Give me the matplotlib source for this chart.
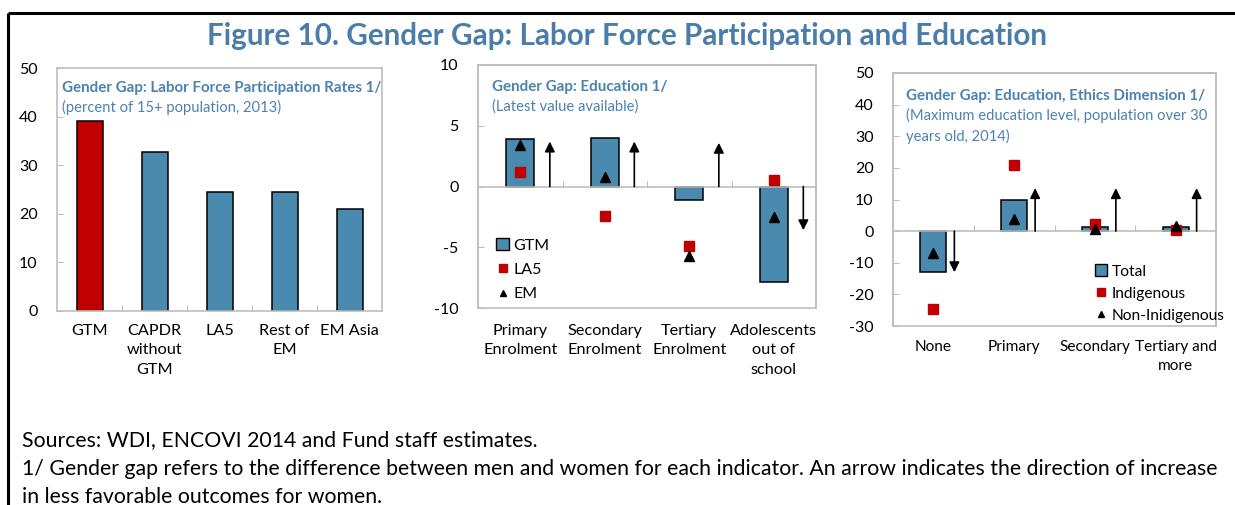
import matplotlib
matplotlib.use("Agg")
import matplotlib.pyplot as plt
from matplotlib.patches import Patch, Rectangle
from matplotlib.lines import Line2D

plt.rcParams['font.family'] = ['Lato', 'DejaVu Sans']
plt.rcParams['axes.unicode_minus'] = False

# --- data ---
lfp_cats = ["GTM", "CAPDR\nwithout\nGTM", "LA5", "Rest of\nEM", "EM Asia"]
lfp_vals = [39.0, 32.8, 24.4, 24.4, 21.0]
lfp_colors = ["#C00000", "#4A8AAE", "#4A8AAE", "#4A8AAE", "#4A8AAE"]

edu_cats = ["Primary\nEnrolment", "Secondary\nEnrolment", "Tertiary\nEnrolment", "Adolescents\nout of\nschool"]
edu_gtm = [3.9, 4.0, -1.1, -7.9]
edu_la5 = [1.2, -2.4, -4.9, 0.5]
edu_em = [3.4, 0.8, -5.7, -2.5]
edu_arrow = [3.7, 3.7, 3.6, -3.6]   # direction of less favourable outcome

eth_cats = ["None", "Primary", "Secondary", "Tertiary and\nmore"]
eth_total = [-12.8, 10.0, 1.4, 1.4]
eth_indig = [-24.7, 21.0, 2.2, 0.4]
eth_nonind = [-6.9, 3.8, 0.8, 1.6]
eth_arrow = [-13.0, 13.6, 13.6, 13.6]

BLUE = "#4A8AAE"
RED = "#C00000"
TXT = "#4C82B0"
GRAY = "#BFBFBF"

fig = plt.figure(figsize=(12.35, 5.05), dpi=100)
W, H = 1235.0, 505.0


def px_axes(l, r, t, b):
    return fig.add_axes([l / W, 1 - b / H, (r - l) / W, (b - t) / H])


def style(ax, ymin, ymax, step, ncat, zero_axis):
    ax.set_ylim(ymin, ymax)
    ax.set_xlim(-0.5, ncat - 0.5)
    ax.set_yticks(range(ymin, ymax + 1, step))
    ax.tick_params(axis='y', direction='in', length=4, color=GRAY, labelsize=11.5, pad=14)
    for s in ax.spines.values():
        s.set_color(GRAY)
        s.set_linewidth(1.2)
    ax.set_xticks([i + 0.5 for i in range(ncat - 1)])
    ax.tick_params(axis='x', direction='in', length=4, color=GRAY, labelbottom=False)
    if zero_axis:
        ax.spines['bottom'].set_position(('data', 0))
        ax.add_patch(Rectangle((0, 0), 1, 1, transform=ax.transAxes, fill=False,
                               edgecolor=GRAY, lw=1.2, clip_on=False))


def cat_labels(ax, cats, ypx, size=11.7):
    for i, c in enumerate(cats):
        x_fig = ax.transData.transform((i, 0))[0]
        fig.text(x_fig / W, 1 - ypx / H, c, ha='center', va='top', fontsize=size,
                 linespacing=1.5)


# panel 1
ax1 = px_axes(57, 382, 68, 311)
x1 = range(len(lfp_cats))
ax1.bar(x1, lfp_vals, width=0.4, color=lfp_colors, edgecolor='black', lw=1.1)
style(ax1, 0, 50, 10, len(lfp_cats), False)
ax1.text(0.015, 0.945, "Gender Gap: Labor Force Participation Rates 1/", transform=ax1.transAxes,
         color=TXT, fontsize=10.9, fontweight='bold', va='top')
ax1.text(0.015, 0.87, "(percent of 15+ population, 2013)", transform=ax1.transAxes,
         color=TXT, fontsize=10.6, va='top')
cat_labels(ax1, lfp_cats, 324)

# panel 2
ax2 = px_axes(478, 816, 65, 308)
x2 = list(range(len(edu_cats)))
ax2.bar(x2, edu_gtm, width=0.33, color=BLUE, edgecolor='black', lw=1.1, label="GTM", zorder=2)
ax2.plot(x2, edu_la5, 's', color=RED, ms=7, ls='none', zorder=3, label="LA5")
ax2.plot(x2, edu_em, '^', color='black', ms=7, ls='none', zorder=4, label="EM")
for i, a in enumerate(edu_arrow):
    ax2.annotate("", xy=(i + 0.35, a), xytext=(i + 0.35, 0),
                 arrowprops=dict(arrowstyle='-|>,head_length=0.6,head_width=0.3',
                                 color='black', lw=1.2, shrinkA=0, shrinkB=0))
style(ax2, -10, 10, 5, len(edu_cats), True)
ax2.text(0.04, 0.94, "Gender Gap: Education 1/", transform=ax2.transAxes,
         color=TXT, fontsize=10.9, fontweight='bold', va='top')
ax2.text(0.04, 0.86, "(Latest value available)", transform=ax2.transAxes,
         color=TXT, fontsize=10.6, va='top')
h2 = [Patch(facecolor=BLUE, edgecolor='black', label="GTM"),
      Line2D([], [], marker='s', color=RED, ls='none', ms=6, label="LA5"),
      Line2D([], [], marker='^', color='black', ls='none', ms=4, label="EM")]
ax2.legend(handles=h2, loc='upper left', bbox_to_anchor=(0.03, 0.32), frameon=False,
           fontsize=11.5, handlelength=0.8, handleheight=0.8, handletextpad=0.3,
           labelspacing=0.6, borderpad=0)
cat_labels(ax2, edu_cats, 324)

# panel 3
ax3 = px_axes(893, 1216, 73, 326)
x3 = list(range(len(eth_cats)))
ax3.bar(x3, eth_total, width=0.32, color=BLUE, edgecolor='black', lw=1.1, zorder=2)
ax3.plot(x3, eth_indig, 's', color=RED, ms=7, ls='none', zorder=3)
ax3.plot(x3, eth_nonind, '^', color='black', ms=7, ls='none', zorder=4)
for i, a in enumerate(eth_arrow):
    ax3.annotate("", xy=(i + 0.26, a), xytext=(i + 0.26, 0),
                 arrowprops=dict(arrowstyle='-|>,head_length=0.6,head_width=0.3',
                                 color='black', lw=1.2, shrinkA=0, shrinkB=0))
style(ax3, -30, 50, 10, len(eth_cats), True)
ax3.text(0.04, 0.935, "Gender Gap: Education, Ethics Dimension 1/", transform=ax3.transAxes,
         color=TXT, fontsize=10.9, fontweight='bold', va='top')
ax3.text(0.04, 0.86, "(Maximum education level, population over 30\nyears old, 2014)",
         transform=ax3.transAxes, color=TXT, fontsize=10.6, va='top', linespacing=1.45)
h3 = [Patch(facecolor=BLUE, edgecolor='black', label="Total"),
      Line2D([], [], marker='s', color=RED, ls='none', ms=6, label="Indigenous"),
      Line2D([], [], marker='^', color='black', ls='none', ms=4, label="Non-Inidigenous")]
ax3.legend(handles=h3, loc='upper left', bbox_to_anchor=(0.6, 0.275), frameon=False,
           fontsize=11.2, handlelength=0.8, handleheight=0.8, handletextpad=0.3,
           labelspacing=0.5, borderpad=0)
cat_labels(ax3, eth_cats, 340, size=11.1)

# title, footnotes, frame
fig.text(0.508, 1 - 36 / H, "Figure 10. Gender Gap: Labor Force Participation and Education",
         ha='center', va='center', fontsize=21.3, fontweight='bold', color="#4A7DAA")
fig.text(22 / W, 1 - 440 / H, "Sources: WDI, ENCOVI 2014 and Fund staff estimates.",
         ha='left', va='center', fontsize=15.3)
fig.text(22 / W, 1 - 469 / H, "1/ Gender gap refers to the difference between men and women for each "
         "indicator. An arrow indicates the direction of increase", ha='left', va='center', fontsize=15.3)
fig.text(22 / W, 1 - 497 / H, "in less favorable outcomes for women.", ha='left', va='center', fontsize=15.3)
fig.add_artist(Line2D([8 / W, 1.01], [1 - 13 / H, 1 - 13 / H], color='black', lw=2.2,
                      solid_capstyle='butt'))
fig.add_artist(Line2D([8 / W, 8 / W], [-0.01, 1 - 13 / H], color='black', lw=2.2,
                      solid_capstyle='butt'))

fig.savefig("out.png", dpi=100)
